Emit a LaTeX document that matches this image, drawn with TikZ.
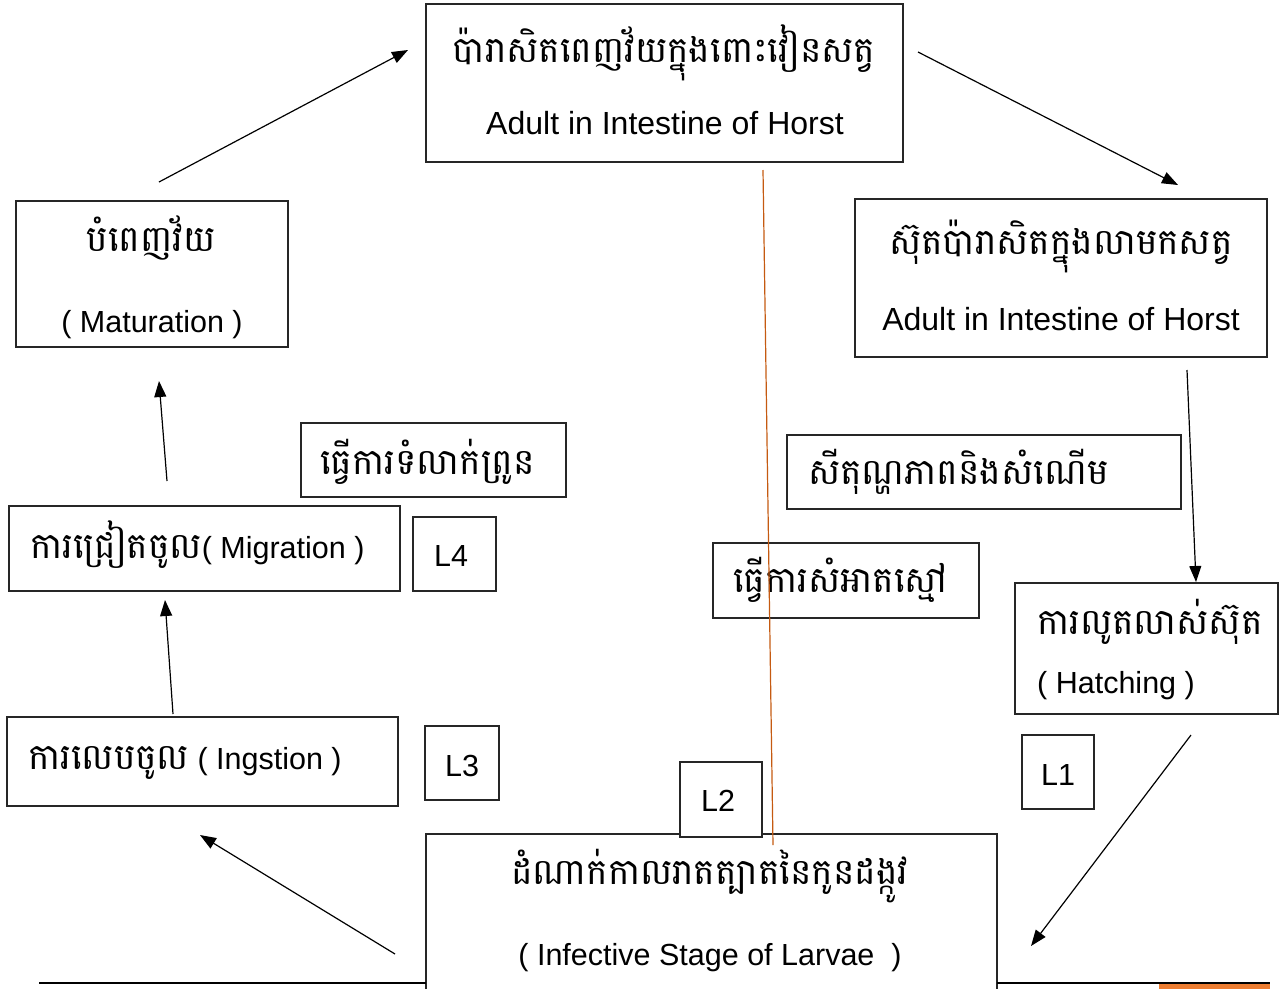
\documentclass[tikz,border=0pt]{standalone}
\usepackage{fontspec}
\setmainfont{Liberation Sans}
\newfontfamily\kh[Script=Khmer]{Battambang}
\usetikzlibrary{arrows.meta}
\definecolor{orline}{HTML}{C55A11}
\definecolor{orbar}{HTML}{ED7D31}
\tikzset{
  box/.style={draw=black!85, line width=1.2pt, fill=white, inner sep=0pt},
  et/.style={inner sep=0pt, font=\fontsize{30.5}{36}\selectfont},
  wide/.style={font=\fontsize{32}{38}\selectfont},
  kt/.style={inner sep=0pt, font=\fontsize{36}{44}\selectfont\kh},
  arr/.style={line width=1.2pt, -{Triangle[length=16pt,width=12pt]}},
}
\begin{document}
\begin{tikzpicture}[x=1pt,y=-1pt]
\useasboundingbox (0,0) rectangle (1285,989);
% boxes
\node[box, minimum width=477, minimum height=158] (adult) at (664.5,83) {};
\node[box, minimum width=412, minimum height=158] (eggs) at (1061,278) {};
\node[box, minimum width=272, minimum height=146] (mat) at (152,274) {};
\node[box, minimum width=265, minimum height=74] (deworm) at (433.5,460) {};
\node[box, minimum width=391, minimum height=85] (migr) at (204.5,548.5) {};
\node[box, minimum width=83, minimum height=74] (lfour) at (454.5,554) {};
\node[box, minimum width=394, minimum height=74] (temp) at (984,472) {};
\node[box, minimum width=266, minimum height=75] (clean) at (846,580.5) {};
\node[box, minimum width=263, minimum height=131] (hatch) at (1146.5,648.5) {};
\node[box, minimum width=391, minimum height=89] (ingest) at (202.5,761.5) {};
\node[box, minimum width=74, minimum height=74] (lthree) at (462,763) {};
\node[box, minimum width=72, minimum height=74] (lone) at (1058,772) {};
% bottom box (runs off the page)
\coordinate (bbl) at (426,989);
\coordinate (btl) at (426,834);
\coordinate (btr) at (997,834);
\coordinate (bbr) at (997,989);
\draw[line width=1.2pt, draw=black!85] (bbl) -- (btl) -- (btr) -- (bbr);
\node[box, minimum width=82, minimum height=75] (ltwo) at (721,799.5) {};
% texts
\node[kt, anchor=base] (adultk) at (664,62) {ប៉ារាសិតពេញវ័យក្នុងពោះវៀនសត្វ};
\node[et, wide, anchor=base] (adulte) at (665,134) {Adult in Intestine of Horst};
\node[kt, anchor=base] (eggsk) at (1061,254) {ស៊ុតប៉ារាសិតក្នុងលាមកសត្វ};
\node[et, wide, anchor=base] (eggse) at (1061,330) {Adult in Intestine of Horst};
\node[kt, anchor=base] (matk) at (151,251) {បំពេញវ័យ};
\node[et, anchor=base] (mate) at (152,332) {( Maturation )};
\node[kt, anchor=base west] (dewormk) at (320,474) {ធ្វើការទំលាក់ព្រូន};
\node[et, anchor=base west] (migrt) at (30,558) {{\kh\fontsize{36}{44}\selectfont ការជ្រៀតចូល}( Migration )};
\node[et, anchor=base] (lfourt) at (451,566) {L4};
\node[kt, anchor=base west] (tempk) at (808,484) {សីតុណ្ហភាពនិងសំណើម};
\node[kt, anchor=base west] (cleank) at (733,592) {ធ្វើការសំអាតស្មៅ};
\node[kt, anchor=base west] (hatchk) at (1037,634) {ការលូតលាស់ស៊ុត};
\node[et, anchor=base west] (hatche) at (1037,693) {( Hatching )};
\node[et, anchor=base west] (ingestt) at (28,769) {{\kh\fontsize{36}{44}\selectfont ការលេបចូល} ( Ingstion )};
\node[et, anchor=base] (lthreet) at (462,776) {L3};
\node[et, anchor=base] (ltwot) at (718,811) {L2};
\node[et, anchor=base] (lonet) at (1058,785) {L1};
\node[kt, anchor=base] (infk) at (710,884) {ដំណាក់កាលរាតត្បាតនៃកូនដង្កូវ};
\node[et, anchor=base] (infe) at (710,965) {( Infective Stage of Larvae~~)};
% arrows
\coordinate (a1s) at (159,182); \coordinate (a1e) at (408,50);
\coordinate (a2s) at (918,52);  \coordinate (a2e) at (1178,185);
\coordinate (a3s) at (1187,370); \coordinate (a3e) at (1196,582);
\coordinate (a4s) at (1191,735); \coordinate (a4e) at (1031,946);
\coordinate (a5s) at (395,954); \coordinate (a5e) at (200,835);
\coordinate (a6s) at (173,714); \coordinate (a6e) at (165,600);
\coordinate (a7s) at (167,481); \coordinate (a7e) at (159,381);
\draw[arr] (a1s) -- (a1e);
\draw[arr] (a2s) -- (a2e);
\draw[arr] (a3s) -- (a3e);
\draw[arr] (a4s) -- (a4e);
\draw[arr] (a5s) -- (a5e);
\draw[arr] (a6s) -- (a6e);
\draw[arr] (a7s) -- (a7e);
% orange line
\coordinate (os) at (763,170); \coordinate (oe) at (773,845);
\draw[orline, line width=1.2pt] (os) -- (oe);
% bottom rule
\coordinate (r1) at (39,983); \coordinate (r2) at (426,983);
\coordinate (r3) at (997,983); \coordinate (r4) at (1270,983);
\draw[line width=2.5pt] (r1) -- (r2);
\draw[line width=2.5pt] (r3) -- (r4);
\fill[orbar] (1159,984) rectangle (1270,989);
\end{tikzpicture}
\end{document}
